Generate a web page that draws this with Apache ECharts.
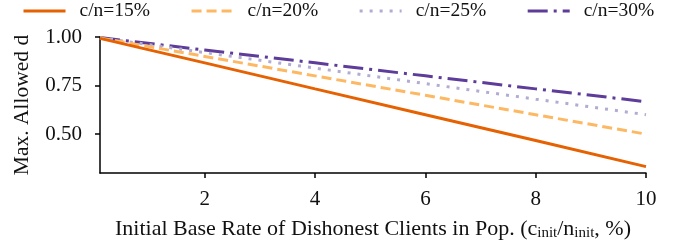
<!DOCTYPE html>
<html>
<head>
<meta charset="utf-8">
<script src="https://cdn.jsdelivr.net/npm/echarts@6/dist/echarts.min.js"></script>
<style>
    html, body { margin: 0; padding: 0; background: #fff; }
    #chart { width: 684px; height: 246px; }
</style>
</head>
<body>
<div id="chart"></div>
<script>
    // base rate of dishonest clients (%)
    let xs = [0.1, 2, 4, 6, 8, 10]
    let names = ['c/n=15%', 'c/n=20%', 'c/n=25%', 'c/n=30%']
    let c15 = [0.993, 0.867, 0.733, 0.600, 0.467, 0.333]
    let c20 = [0.995, 0.900, 0.800, 0.700, 0.600, 0.500]
    let c25 = [0.996, 0.920, 0.840, 0.760, 0.680, 0.600]
    let c30 = [0.997, 0.933, 0.867, 0.800, 0.733, 0.667]
    let xTicks = [2, 4, 6, 8, 10]
    let yTicks = [0.5, 0.75, 1.0]

    let colors = ['#e66101', '#fdb863', '#b2abd2', '#5e3c99']
    let dashes = ['solid', [10, 5], [3, 7], [20, 6, 3, 6]]
    let values = [c15, c20, c25, c30]

    let font = '"Liberation Serif", "Times New Roman", serif'
    let chart = document.getElementById('chart')
    let myChart = echarts.init(chart, null, {renderer: 'canvas'})

    let series = []
    for (let i = 0; i < names.length; i++) {
        let d = []
        for (let j = 0; j < xs.length; j++) {
            d.push([xs[j], values[i][j]])
        }
        series.push({
            name: names[i],
            type: 'line',
            data: d,
            symbol: 'none',
            z: 10 - i,
            lineStyle: {color: colors[i], width: 3, type: dashes[i], cap: 'butt'},
            itemStyle: {color: colors[i]}
        })
    }

    const option = {
        animation: false,
        textStyle: {fontFamily: font},
        legend: {
            top: 1,
            left: 22,
            padding: 0,
            itemGap: 40,
            itemWidth: 42,
            itemHeight: 14,
            textStyle: {fontFamily: font, fontSize: 19.5, color: '#111', padding: [0, 0, 0, 9]},
            data: names.map(function (n, i) {
                return {name: n, itemStyle: {opacity: 0}, lineStyle: {color: colors[i], width: 3, type: dashes[i]}}
            })
        },
        grid: {left: 100, right: 38, top: 37, bottom: 73},
        xAxis: {
            type: 'value',
            min: 0.1,
            max: 10,
            axisLine: {show: true, lineStyle: {color: '#000', width: 1.5}},
            axisTick: {show: true, inside: false, length: 5, customValues: xTicks, lineStyle: {color: '#000', width: 1.5}},
            axisLabel: {customValues: xTicks, fontFamily: font, fontSize: 21, color: '#111', margin: 16},
            splitLine: {show: false},
            name: '{n|Initial Base Rate of Dishonest Clients in Pop. (c}{s|init}{n|/n}{s|init}{n|, %)}',
            nameLocation: 'middle',
            nameGap: 44,
            nameTextStyle: {
                rich: {
                    n: {fontFamily: font, fontSize: 22, color: '#111'},
                    s: {fontFamily: font, fontSize: 15, color: '#111', verticalAlign: 'bottom', padding: [9, 0, 0, 0]}
                }
            }
        },
        yAxis: {
            type: 'value',
            min: 0.3,
            max: 1.0,
            axisLine: {show: true, lineStyle: {color: '#000', width: 1.5}},
            axisTick: {show: true, length: 5, customValues: yTicks, lineStyle: {color: '#000', width: 1.5}},
            axisLabel: {
                customValues: yTicks,
                fontFamily: font, fontSize: 21, color: '#111', margin: 18,
                formatter: function (v) { return v.toFixed(2) }
            },
            splitLine: {show: false},
            name: 'Max. Allowed d',
            nameLocation: 'middle',
            nameGap: 67,
            nameTextStyle: {fontFamily: font, fontSize: 21.5, color: '#111'}
        },
        series: series
    }
    myChart.setOption(option)
</script>
</body>
</html>
